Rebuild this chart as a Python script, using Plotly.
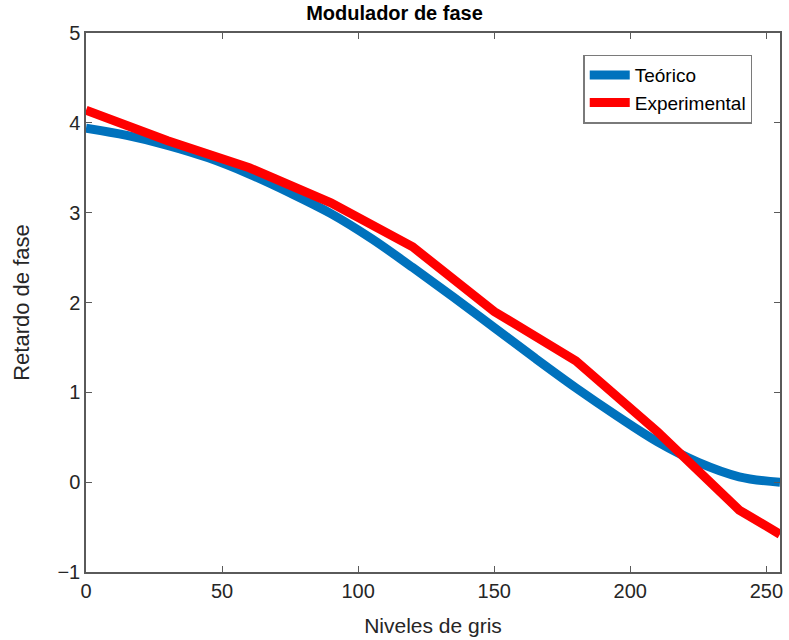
import plotly.graph_objects as go

# Data
teo_x = [0, 15, 30, 45, 60, 75, 90, 105, 120, 135, 150, 165, 180, 195, 210, 225, 240, 255]
teo_y = [3.94, 3.86, 3.75, 3.61, 3.43, 3.22, 2.99, 2.71, 2.39, 2.06, 1.72, 1.38, 1.05, 0.74, 0.45, 0.22, 0.06, 0.0]
exp_x = [0, 30, 60, 90, 120, 150, 180, 210, 240, 255]
exp_y = [4.14, 3.80, 3.50, 3.11, 2.62, 1.90, 1.35, 0.56, -0.31, -0.58]
x_ticks = [0, 50, 100, 150, 200, 250]
y_ticks = [-1, 0, 1, 2, 3, 4, 5]

fig = go.Figure()
fig.add_trace(go.Scatter(x=teo_x, y=teo_y, mode="lines", name="Teórico",
                         line=dict(color="#0072BD", width=9, shape="spline", smoothing=1.0)))
fig.add_trace(go.Scatter(x=exp_x, y=exp_y, mode="lines", name="Experimental",
                         line=dict(color="#FF0000", width=9)))

axis_common = dict(showline=True, linecolor="#5a5a5a", linewidth=1.5, mirror="allticks",
                   ticks="inside", ticklen=6, tickcolor="#5a5a5a", showgrid=False, zeroline=False,
                   tickfont=dict(family="Liberation Sans, Arial, sans-serif", size=20, color="#262626"))

fig.update_layout(
    width=789, height=640,
    margin=dict(l=86, r=6, t=33, b=68),
    paper_bgcolor="white", plot_bgcolor="white",
    title=dict(text="<b>Modulador de fase</b>", x=0.5, xanchor="center", y=0.99, yanchor="top",
               font=dict(family="Liberation Sans, Arial, sans-serif", size=20, color="black")),
    xaxis=dict(range=[0, 255], tickvals=x_ticks,
               title=dict(text="Niveles de gris", standoff=18,
                          font=dict(family="Liberation Sans, Arial, sans-serif", size=21, color="#262626")),
               **axis_common),
    yaxis=dict(range=[-1, 5], tickvals=y_ticks,
               title=dict(text="Retardo de fase", standoff=22,
                          font=dict(family="Liberation Sans Narrow, Arial Narrow, Liberation Sans, sans-serif", size=22, color="#262626")),
               **axis_common),
    legend=dict(x=0.96, y=0.96, xanchor="right", yanchor="top",
                bgcolor="white", bordercolor="#7a7a7a", borderwidth=1.5,
                font=dict(family="Liberation Sans, Arial, sans-serif", size=19, color="black"),
                tracegroupgap=0, itemwidth=40),
    showlegend=True,
)

fig.write_html("out.html")
